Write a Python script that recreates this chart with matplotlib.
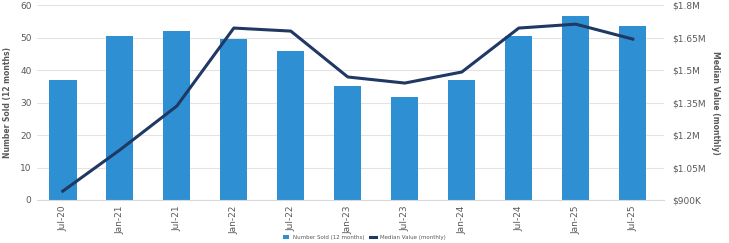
import matplotlib
matplotlib.use("Agg")
import matplotlib.pyplot as plt
from matplotlib.ticker import FuncFormatter

categories = ["Jul-20", "Jan-21", "Jul-21", "Jan-22", "Jul-22", "Jan-23",
              "Jul-23", "Jan-24", "Jul-24", "Jan-25", "Jul-25"]
number_sold = [37, 50.5, 52, 49.5, 46, 35, 31.7, 37, 50.5, 56.7, 53.7]
median_value = [941000, 1131000, 1334000, 1694000, 1680000, 1468000,
                1440000, 1491000, 1694000, 1712000, 1643000]

bar_color = "#2F8FD3"
line_color = "#1F3864"
text_color = "#595959"

fig = plt.figure(figsize=(7.29, 2.43), dpi=100)
ax = fig.add_axes([0.051, 0.177, 0.86, 0.802])
x = list(range(len(categories)))
ax.bar(x, number_sold, width=0.48, color=bar_color, zorder=2,
       label="Number Sold (12 months)")
ax.set_ylim(0, 60)
ax.set_yticks(range(0, 61, 10))
ax.set_xlim(-0.45, 10.55)
ax.set_xticks(x)
ax.set_xticklabels(categories, rotation=90)
ax.grid(axis="y", color="#E3E3E3", linewidth=0.8, zorder=0)
for s in ["top", "right", "left"]:
    ax.spines[s].set_visible(False)
ax.spines["bottom"].set_color("#D9D9D9")
ax.tick_params(axis="both", length=0, labelsize=6.5, colors=text_color, pad=4)
ax.set_ylabel("Number Sold (12 months)", fontsize=5.5, color=text_color,
              fontweight="bold", labelpad=6)

ax2 = ax.twinx()
ax2.plot(x, median_value, color=line_color, linewidth=2.2, zorder=3,
         label="Median Value (monthly)")
ax2.set_ylim(900000, 1800000)
ax2.set_yticks([900000, 1050000, 1200000, 1350000, 1500000, 1650000, 1800000])

def fmt(v, pos):
    if v < 1000000:
        return "${:.0f}K".format(v / 1000)
    s = "{:.2f}".format(v / 1e6).rstrip("0").rstrip(".")
    return "$" + s + "M"

ax2.yaxis.set_major_formatter(FuncFormatter(fmt))
for s in ["top", "right", "left", "bottom"]:
    ax2.spines[s].set_visible(False)
ax2.tick_params(axis="y", length=0, labelsize=6.5, colors=text_color, pad=6)
ax2.set_ylabel("Median Value (monthly)", fontsize=5.5, color=text_color,
               fontweight="bold", rotation=-90, labelpad=10)

h1, l1 = ax.get_legend_handles_labels()
h2, l2 = ax2.get_legend_handles_labels()
fig.legend(h1 + h2, l1 + l2, loc="lower center", bbox_to_anchor=(0.5, -0.005),
           ncol=2, fontsize=4, frameon=False, labelcolor=text_color,
           handlelength=1, columnspacing=1, borderpad=0.2)

fig.savefig("out.png", dpi=100)
